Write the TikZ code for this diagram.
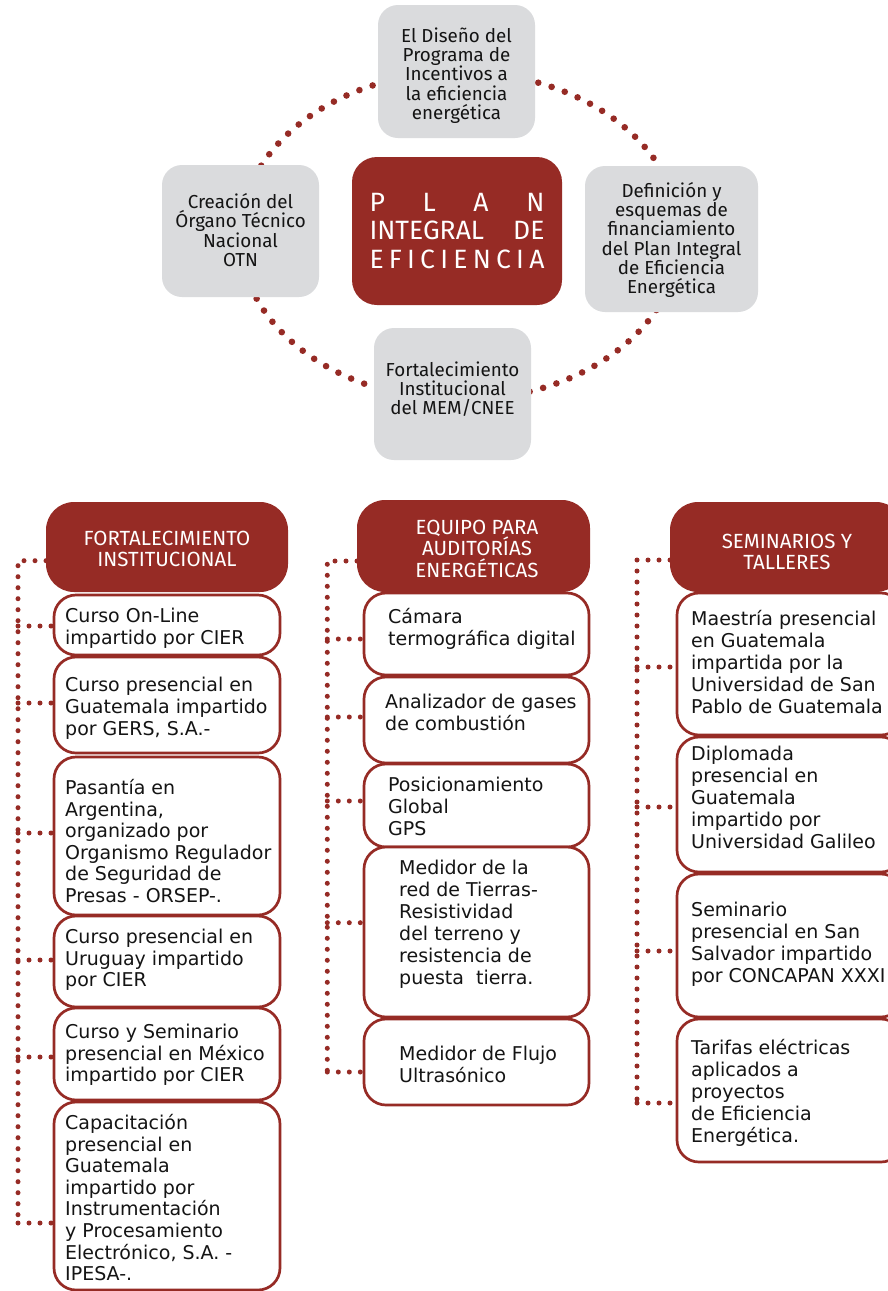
\documentclass[tikz,border=0pt]{standalone}
\usepackage{fontspec}
\newfontfamily\topfont{Fira Sans}
\newfontfamily\itemfont{DejaVu Sans}
\definecolor{myred}{RGB}{150,43,37}
\definecolor{mygray}{RGB}{218,219,221}
\definecolor{mytext}{RGB}{20,20,20}
\pgfdeclarelayer{bg}
\pgfsetlayers{bg,main}
\tikzset{
  ring/.style={draw=myred, line width=6.6pt, line cap=round, dash pattern=on 0pt off 14pt},
  dots/.style={draw=myred, line width=5pt, line cap=round, dash pattern=on 0pt off 11pt},
  graybox/.style={rectangle, rounded corners=20pt, fill=mygray, inner sep=0pt, outer sep=0pt},
  graytext/.style={align=center, inner sep=0pt, text=mytext,
    font=\topfont\fontsize{18.8}{19.2}\selectfont},
  centerbox/.style={rectangle, rounded corners=25pt, fill=myred, inner sep=0pt, outer sep=0pt,
    align=center, text=white, font=\topfont\fontsize{26.5}{28.4}\selectfont},
  headbox/.style={rectangle, rounded corners=28pt, fill=myred, inner sep=0pt, outer sep=0pt},
  headtext/.style={anchor=north, align=center, inner sep=0pt, text=white,
    font=\topfont\fontsize{20.5}{21.7}\selectfont, execute at begin node={\rule{0pt}{16pt}}},
  itembox/.style={rectangle, rounded corners=22pt, draw=myred, line width=2.7pt, fill=white,
    inner sep=0pt, outer sep=0pt},
  itemtext/.style={anchor=north west, align=left, inner sep=0pt, text=mytext,
    font=\itemfont\fontsize{19}{22}\selectfont, execute at begin node={\rule{0pt}{16pt}}},
  itemtexta/.style={itemtext, font=\itemfont\fontsize{19}{21.6}\selectfont},
}
\begin{document}
\begin{tikzpicture}[x=1pt,y=-1pt]
\useasboundingbox (0,0) rectangle (888,1291);
\clip (0,0) rectangle (888,1291);

% ---------- top ring ----------
\coordinate (ringc) at (460,236);
\node[graybox, minimum width=157pt, minimum height=133pt] (T) at (456.5,71.5) {};
\node[graytext] (Tt) at ([yshift=-4pt]T.center)
  {El Diseño del\\Programa de\\Incentivos a\\la eficiencia\\energética};
\node[graybox, minimum width=157pt, minimum height=132pt] (L) at (240.5,231) {};
\node[graytext] (Lt) at ([yshift=1pt]L.center)
  {Creación del\\Órgano Técnico\\Nacional\\OTN};
\node[graybox, minimum width=173pt, minimum height=146pt] (R) at (671.5,239) {};
\node[graytext] (Rt) at ([yshift=-1pt]R.center)
  {Definición y\\esquemas de\\financiamiento\\del Plan Integral\\de Eficiencia\\Energética};
\node[graybox, minimum width=157pt, minimum height=132pt] (B) at (452.5,394) {};
\node[graytext] (Bt) at ([yshift=5pt]B.center)
  {Fortalecimiento\\Institucional\\del MEM/CNEE};
\node[centerbox, minimum width=210pt, minimum height=148pt] (C) at (457,231)
  {\makebox[175pt][s]{P\hfill L\hfill A\hfill N}\\
   \makebox[175pt][s]{INTEGRAL\hfill DE}\\
   \makebox[175pt][s]{E\hfill F\hfill I\hfill C\hfill I\hfill E\hfill N\hfill C\hfill I\hfill A}};

% ---------- headers ----------
\node[headbox, minimum width=242pt, minimum height=90pt] (H1) at (167,547) {};
\node[headtext] (H1t) at (167,530.7) {FORTALECIMIENTO\\INSTITUCIONAL};
\node[headbox, minimum width=233pt, minimum height=92pt] (H2) at (473.5,546) {};
\node[headtext] (H2t) at (477,519.6) {EQUIPO PARA\\AUDITORÍAS\\ENERGÉTICAS};
\node[headbox, minimum width=234pt, minimum height=90pt] (H3) at (787,547) {};
\node[headtext] (H3t) at (787,533.6) {SEMINARIOS Y\\TALLERES};

% ---------- column 1 ----------
\node[itembox, minimum width=226pt, minimum height=60pt] (c1) at (167,625) {};
\node[itemtexta] (tc1) at (65,608) {Curso On-Line\\impartido por CIER};
\node[itembox, minimum width=226pt, minimum height=96pt] (c2) at (167,705) {};
\node[itemtexta] (tc2) at (65,677.3) {Curso presencial en\\Guatemala impartido\\por GERS, S.A.-};
\node[itembox, minimum width=226pt, minimum height=158pt] (c3) at (167,836) {};
\node[itemtexta] (tc3) at (65,779) {Pasantía en\\Argentina,\\organizado por\\Organismo Regulador\\de Seguridad de\\Presas - ORSEP-.};
\node[itembox, minimum width=226pt, minimum height=91pt] (c4) at (167,961.5) {};
\node[itemtexta] (tc4) at (65,929) {Curso presencial en\\Uruguay impartido\\por CIER};
\node[itembox, minimum width=226pt, minimum height=92pt] (c5) at (167,1054) {};
\node[itemtexta] (tc5) at (65,1024) {Curso y Seminario\\presencial en México\\impartido por CIER};
\node[itembox, minimum width=226pt, minimum height=188pt] (c6) at (167,1196) {};
\node[itemtexta] (tc6) at (65,1114) {Capacitación\\presencial en\\Guatemala\\impartido por\\Instrumentación\\y Procesamiento\\Electrónico, S.A. -\\IPESA-.};

% ---------- column 2 ----------
\node[itembox, minimum width=225pt, minimum height=82pt] (d1) at (476.5,634) {};
\node[itemtext] (td1) at (388,608) {Cámara\\termográfica digital};
\node[itembox, minimum width=225pt, minimum height=86pt] (d2) at (476.5,720) {};
\node[itemtext] (td2) at (385,694) {Analizador de gases\\de combustión};
\node[itembox, minimum width=225pt, minimum height=83pt] (d3) at (476.5,805.5) {};
\node[itemtext] (td3) at (388,777) {Posicionamiento\\Global\\GPS};
\node[itembox, minimum width=225pt, minimum height=170pt] (d4) at (476.5,932) {};
\node[itemtext] (td4) at (399,860) {Medidor de la\\red de Tierras-\\Resistividad\\del terreno y\\resistencia de\\puesta\ \ tierra.};
\node[itembox, minimum width=225pt, minimum height=86pt] (d5) at (476.5,1062) {};
\node[itemtext] (td5) at (399,1045.7) {Medidor de Flujo\\Ultrasónico};

% ---------- column 3 ----------
\node[itembox, minimum width=226pt, minimum height=142pt] (e1) at (790,664) {};
\node[itemtext] (te1) at (691,610) {Maestría presencial\\en Guatemala\\impartida por la\\Universidad de San\\Pablo de Guatemala};
\node[itembox, minimum width=226pt, minimum height=135pt] (e2) at (790,804.5) {};
\node[itemtext] (te2) at (691,745.7) {Diplomada\\presencial en\\Guatemala\\impartido por\\Universidad Galileo};
\node[itembox, minimum width=226pt, minimum height=143pt] (e3) at (790,945.5) {};
\node[itemtext] (te3) at (691,902) {Seminario\\presencial en San\\Salvador impartido\\por CONCAPAN XXXI};
\node[itembox, minimum width=226pt, minimum height=143pt] (e4) at (790,1090.5) {};
\node[itemtext] (te4) at (691,1039) {Tarifas eléctricas\\aplicados a\\proyectos\\de Eficiencia\\Energética.};

% ---------- spine coordinates ----------
\coordinate (a0) at (18,560.7);
\coordinate (a1) at (18,626);
\coordinate (a2) at (18,703);
\coordinate (a3) at (18,833);
\coordinate (a4) at (18,960);
\coordinate (a5) at (18,1057);
\coordinate (a6) at (18,1223);
\coordinate (b0) at (327.3,561);
\coordinate (b1) at (327.3,639);
\coordinate (b2) at (327.3,717);
\coordinate (b3) at (327.3,801);
\coordinate (b4) at (327.3,922.7);
\coordinate (b5) at (327.3,1072);
\coordinate (f0) at (637,560);
\coordinate (f1) at (637,667);
\coordinate (f2) at (637,807);
\coordinate (f3) at (637,951);
\coordinate (f4) at (637,1103);

\begin{pgfonlayer}{bg}
  \fill[white] (0,0) rectangle (888,1291);
  \draw[ring] (ringc) ellipse [x radius=220pt, y radius=164pt];
  \draw[dots] (H1.west |- a0) -- (a0) -- (a6);
  \foreach \i in {1,...,6} { \draw[dots] (a\i) -- (c\i.west |- a\i); }
  \draw[dots] (H2.west |- b0) -- (b0) -- (b5);
  \foreach \i in {1,...,5} { \draw[dots] (b\i) -- (d\i.west |- b\i); }
  \draw[dots] (H3.west |- f0) -- (f0) -- (f4);
  \foreach \i in {1,...,4} { \draw[dots] (f\i) -- (e\i.west |- f\i); }
\end{pgfonlayer}
\end{tikzpicture}
\end{document}
